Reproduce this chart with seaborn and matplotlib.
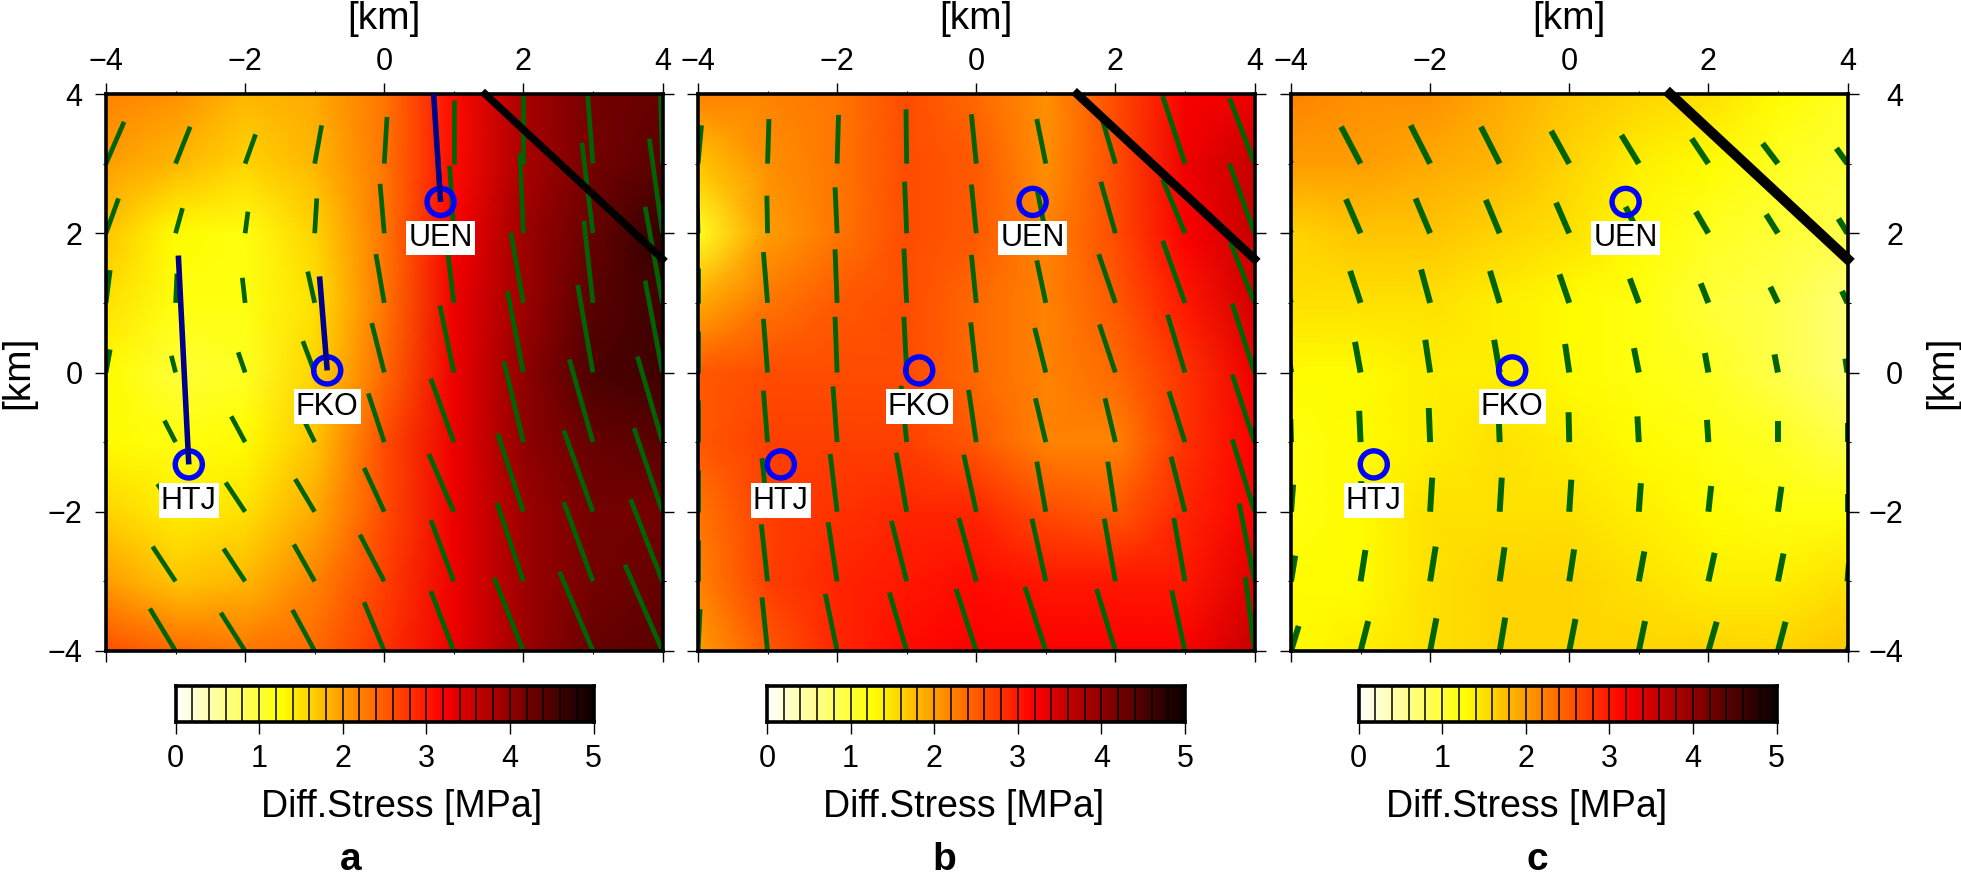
import numpy as np
import pandas as pd
import matplotlib
matplotlib.use("Agg")
import matplotlib.pyplot as plt
import seaborn as sns

sns.set_theme(style="white")
plt.rcParams['font.family'] = ['Liberation Sans', 'DejaVu Sans']

W, H = 1961, 882

# grid nodes of the stress field and of the sticks
grid_x = [-4, -3, -2, -1, 0, 1, 2, 3, 4]
grid_y_top = [4, 3, 2, 1, 0, -1, -2, -3, -4]
stick_y = [-4, -3, -2, -1, 0, 1, 2, 3]

# differential stress [MPa], rows from y=4 down to y=-4
stress_a = [
    [2.2, 2.1, 1.8, 1.9, 2.3, 3.1, 3.8, 4.2, 4.3],
    [2.0, 1.8, 1.6, 1.8, 2.3, 3.1, 3.8, 4.2, 4.4],
    [1.7, 1.3, 1.2, 1.6, 2.3, 3.2, 3.9, 4.3, 4.7],
    [1.5, 1.2, 1.2, 1.5, 2.3, 3.3, 3.9, 4.4, 4.6],
    [1.3, 1.0, 1.1, 1.6, 2.4, 3.3, 4.0, 4.5, 4.6],
    [1.3, 1.2, 1.3, 1.7, 2.6, 3.3, 4.0, 4.3, 4.4],
    [1.6, 1.4, 1.5, 1.9, 2.6, 3.3, 3.9, 4.2, 4.2],
    [2.0, 1.7, 1.8, 2.2, 2.7, 3.3, 3.9, 4.2, 4.3],
    [2.6, 2.4, 2.3, 2.4, 2.8, 3.3, 3.9, 4.3, 4.4],
]
stress_b = [
    [2.2, 2.2, 2.3, 2.6, 2.4, 2.1, 2.6, 3.2, 3.3],
    [1.7, 2.1, 2.3, 2.6, 2.5, 2.1, 2.6, 3.3, 3.6],
    [1.1, 2.0, 2.3, 2.6, 2.5, 2.2, 2.6, 3.2, 3.6],
    [1.9, 2.3, 2.5, 2.6, 2.4, 2.2, 2.5, 3.0, 3.5],
    [2.5, 2.6, 2.6, 2.6, 2.4, 2.2, 2.4, 2.8, 3.3],
    [2.5, 2.7, 2.7, 2.7, 2.5, 2.2, 2.2, 2.8, 3.2],
    [2.3, 2.7, 2.8, 2.9, 2.9, 2.6, 2.5, 2.9, 3.2],
    [2.2, 2.7, 2.9, 3.0, 3.1, 3.0, 3.0, 3.0, 3.4],
    [2.0, 2.5, 2.9, 3.1, 3.2, 3.2, 3.2, 3.2, 3.6],
]
stress_c = [
    [2.2, 2.1, 2.1, 1.9, 1.7, 1.6, 1.5, 1.3, 1.1],
    [2.0, 2.0, 1.9, 1.8, 1.6, 1.4, 1.3, 1.1, 1.0],
    [1.6, 1.7, 1.7, 1.6, 1.5, 1.3, 1.1, 1.0, 0.9],
    [1.5, 1.5, 1.5, 1.4, 1.3, 1.2, 1.0, 0.9, 0.7],
    [1.3, 1.3, 1.4, 1.4, 1.3, 1.2, 1.1, 0.9, 0.7],
    [1.2, 1.3, 1.4, 1.5, 1.4, 1.3, 1.2, 1.1, 0.9],
    [1.2, 1.3, 1.5, 1.5, 1.5, 1.4, 1.3, 1.2, 1.2],
    [1.3, 1.3, 1.5, 1.6, 1.6, 1.5, 1.4, 1.4, 1.5],
    [1.3, 1.4, 1.5, 1.6, 1.6, 1.6, 1.6, 1.6, 1.7],
]

# green sticks: offset of the upper end from the node, rows y=-4 up to y=3
dx_a = [
    [-.38, -.37, -.35, -.32, -.29, -.33, -.42, -.48, -.54],
    [-.35, -.33, -.31, -.30, -.35, -.33, -.38, -.42, -.46],
    [-.30, -.26, -.28, -.28, -.29, -.36, -.37, -.42, -.41],
    [-.15, -.16, -.20, -.22, -.23, -.33, -.28, -.34, -.36],
    [.06, -.06, -.10, -.17, -.18, -.20, -.23, -.22, -.25],
    [.06, .02, -.04, -.10, -.12, -.09, -.18, -.13, -.25],
    [.18, .10, .04, .03, -.06, -.06, -.05, -.16, -.19],
    [.26, .21, .15, .10, .04, .00, .00, -.10, -.03],
]
dy_a = [
    [.60, .61, .55, .59, .70, .86, 1.05, 1.14, 1.24],
    [.50, .50, .47, .53, .67, .88, 1.13, 1.14, 1.18],
    [.40, .40, .42, .47, .63, .83, 1.12, 1.17, 1.20],
    [.30, .31, .37, .45, .70, .91, 1.16, 1.19, 1.23],
    [.33, .24, .29, .45, .71, .96, 1.17, 1.26, 1.32],
    [.47, .42, .36, .45, .70, .75, 1.01, 1.18, 1.38],
    [.50, .36, .31, .50, .71, .97, 1.15, 1.30, 1.36],
    [.60, .53, .42, .55, .67, .92, 1.10, 1.30, 1.10],
]
dx_b = [
    [.03, -.08, -.17, -.25, -.29, -.30, -.27, -.19, -.13],
    [.00, -.09, -.13, -.22, -.25, -.20, -.16, -.16, -.22],
    [.00, -.08, -.10, -.15, -.18, -.13, -.11, -.20, -.32],
    [.00, -.06, -.06, -.08, -.11, -.15, -.15, -.23, -.32],
    [.00, -.06, -.03, -.04, -.08, -.16, -.23, -.25, -.32],
    [.00, -.06, -.03, -.04, -.07, -.13, -.24, -.32, -.35],
    [-.01, -.01, -.03, -.03, -.07, -.12, -.21, -.32, -.36],
    [.05, .02, .02, -.01, -.07, -.13, -.19, -.32, -.36],
]
dy_b = [
    [.60, .77, .82, .84, .89, .92, .89, .87, 1.06],
    [.60, .82, .85, .87, .91, .90, .90, .91, 1.12],
    [.60, .77, .83, .85, .82, .72, .72, .79, 1.04],
    [.60, .74, .80, .81, .75, .63, .63, .73, .97],
    [.60, .77, .80, .80, .72, .64, .69, .83, .99],
    [.50, .73, .77, .78, .69, .61, .70, .89, .88],
    [.35, .54, .66, .74, .70, .60, .74, .77, 1.00],
    [.55, .64, .70, .78, .71, .64, .64, .97, .94],
]
dx_c = [
    [.11, .11, .09, .08, .09, .09, .12, .11, .10],
    [.06, .07, .08, .07, .07, .08, .09, .08, .02],
    [.03, .01, .03, .03, .03, .03, .04, .05, .00],
    [-.01, -.02, -.02, -.02, -.01, -.02, -.02, .00, .00],
    [-.03, -.08, -.07, -.08, -.06, -.07, -.05, -.05, -.03],
    [-.05, -.15, -.13, -.14, -.14, -.13, -.11, -.11, -.08],
    [-.03, -.21, -.21, -.20, -.19, -.19, -.18, -.17, -.13],
    [-.03, -.28, -.28, -.27, -.26, -.25, -.24, -.22, -.16],
]
dy_c = [
    [.36, .43, .47, .48, .46, .43, .42, .42, .30],
    [.37, .45, .50, .49, .46, .43, .41, .40, .25],
    [.39, .44, .49, .49, .46, .41, .37, .36, .25],
    [.33, .45, .49, .48, .43, .37, .32, .30, .28],
    [.20, .44, .47, .47, .41, .35, .28, .26, .20],
    [.12, .46, .48, .46, .41, .35, .28, .23, .17],
    [.07, .49, .50, .48, .44, .38, .31, .27, .21],
    [.08, .53, .55, .53, .47, .41, .36, .29, .22],
]

panel_names = ["a", "b", "c"]
panel_stress = [stress_a, stress_b, stress_c]
panel_dx = [dx_a, dx_b, dx_c]
panel_dy = [dy_a, dy_b, dy_c]
stick_widths = [3.4, 3.5, 4.3]
fault_widths = [5.4, 6.2, 7.4]

# stations
station_names = ["HTJ", "FKO", "UEN"]
station_x = [-2.81, -0.82, 0.81]
station_y = [-1.32, 0.03, 2.45]
# dark blue lines of panel a, upper end of each
line_top_x = [-2.96, -0.93, 0.71]
line_top_y = [1.68, 1.38, 4.0]

fault_x = [1.45, 4.0]
fault_y = [4.0, 1.63]

ticks_major = [-4, -2, 0, 2, 4]
ticks_minor = [-3, -1, 1, 3]
bar_levels = np.arange(0.02, 5.0, 0.04)
bar_ticks = [0, 1, 2, 3, 4, 5]
bar_cells = np.arange(0.2, 5.0, 0.2)


def box(x0, y0, x1, y1):
    # pixel box of the reference -> figure fractions
    return [x0 / W, 1 - y1 / H, (x1 - x0) / W, (y1 - y0) / H]


fig = plt.figure(figsize=(W / 100, H / 100), dpi=100)

panel_left = [106, 698, 1291]
panel_width = 556.5
bar_left = [175.5, 767, 1358.5]
label_center = [402, 964, 1527]
letter_center = [351, 944, 1537]

for i, name in enumerate(panel_names):
    pos = box(panel_left[i], 94, panel_left[i] + panel_width, 651)

    # stress field, drawn behind the km axes
    bg = fig.add_axes(pos)
    sns.heatmap(np.array(panel_stress[i]), cmap="hot_r", vmin=0, vmax=5, cbar=False,
                xticklabels=False, yticklabels=False, shading="gouraud", ax=bg)
    bg.set_xlim(0, len(grid_x) - 1)
    bg.set_ylim(len(grid_y_top) - 1, 0)
    bg.axis("off")

    ax = fig.add_axes(pos, facecolor="none")

    rows = []
    for r, y0 in enumerate(stick_y):
        for c, x0 in enumerate(grid_x):
            stick = f"{r}_{c}"
            rows.append({"stick": stick, "x": x0, "y": y0})
            rows.append({"stick": stick, "x": x0 + panel_dx[i][r][c], "y": y0 + panel_dy[i][r][c]})
    sticks = pd.DataFrame(rows)
    sns.lineplot(data=sticks, x="x", y="y", units="stick", estimator=None, sort=False,
                 color="#006400", linewidth=stick_widths[i], solid_capstyle="butt",
                 legend=False, ax=ax)

    sns.lineplot(x=fault_x, y=fault_y, estimator=None, sort=False, color="black",
                 linewidth=fault_widths[i], solid_capstyle="projecting", clip_on=False,
                 zorder=5, ax=ax)

    if name == "a":
        for s in range(len(station_names)):
            sns.lineplot(x=[station_x[s], line_top_x[s]], y=[station_y[s], line_top_y[s]],
                         estimator=None, sort=False, color="#00008b", linewidth=4.0,
                         solid_capstyle="butt", zorder=8, ax=ax)

    sns.scatterplot(x=station_x, y=station_y, s=380, facecolor="none", edgecolor="#0000ff",
                    linewidth=3.9, zorder=7, ax=ax)
    for s, st_name in enumerate(station_names):
        ax.text(station_x[s], station_y[s] - 0.52, st_name, ha="center", va="center",
                fontsize=22, color="black", zorder=9,
                bbox=dict(facecolor="white", edgecolor="none", pad=1.5))

    ax.set_xlim(-4, 4)
    ax.set_ylim(-4, 4)
    ax.set_xlabel("")
    ax.set_ylabel("")
    ax.set_xticks(ticks_major)
    ax.set_yticks(ticks_major)
    ax.set_xticks(ticks_minor, minor=True)
    ax.set_yticks(ticks_minor, minor=True)
    ax.tick_params(which="major", length=8, width=1.0, color="black", direction="out",
                   top=True, bottom=True, left=True, right=True,
                   labeltop=True, labelbottom=False,
                   labelleft=(name == "a"), labelright=(name == "c"),
                   labelsize=22, labelcolor="black")
    ax.tick_params(axis="x", which="major", pad=4.5)
    # labels on the right side are right aligned in the original
    ax.tick_params(axis="y", which="major", pad=32 if name == "c" else 9)
    if name == "c":
        for tick in ax.yaxis.get_major_ticks():
            tick.label2.set_ha("right")
    ax.tick_params(which="minor", length=2.5, width=0.8, color="black", direction="out",
                   top=True, bottom=True, left=True, right=True)
    for sp in ax.spines.values():
        sp.set_visible(True)
        sp.set_color("black")
        sp.set_linewidth(2.6)
        sp.set_zorder(4)

    fig.text((panel_left[i] + panel_width / 2) / W, 1 - 19 / H, "[km]", ha="center",
             va="center", fontsize=28, color="black")

    # colour bar with cell separators every 0.2 MPa
    cax = fig.add_axes(box(bar_left[i], 686, bar_left[i] + 418, 722))
    sns.heatmap(bar_levels.reshape(1, -1), cmap="hot_r", vmin=0, vmax=5, cbar=False,
                xticklabels=False, yticklabels=False, ax=cax)
    cax.vlines(bar_cells * 25, 0, 1, color="black", linewidth=1.1)
    cax.set_xticks(np.array(bar_ticks) * 25)
    cax.set_xticklabels(bar_ticks)
    cax.set_yticks([])
    cax.tick_params(axis="x", bottom=True, length=8.5, width=1.0, color="black", direction="out",
                    labelsize=22, pad=7, labelcolor="black", rotation=0)
    for sp in cax.spines.values():
        sp.set_visible(True)
        sp.set_color("black")
        sp.set_linewidth(2.6)

    fig.text(label_center[i] / W, 1 - 807 / H, "Diff.Stress [MPa]", ha="center", va="center",
             fontsize=27, color="black")
    fig.text(letter_center[i] / W, 1 - 860 / H, name, ha="center", va="center",
             fontsize=28, fontweight="bold", color="black")

fig.text(18 / W, 1 - 372 / H, "[km]", rotation=90, ha="center", va="center", fontsize=28, color="black")
fig.text(1942 / W, 1 - 372 / H, "[km]", rotation=90, ha="center", va="center", fontsize=28, color="black")

fig.savefig("out.png", dpi=100)
